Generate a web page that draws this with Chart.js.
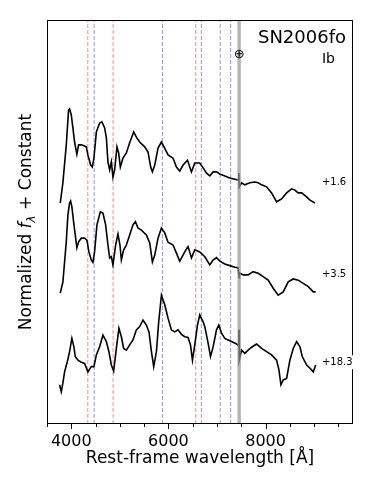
<!DOCTYPE html>
<html>
<head>
<meta charset="utf-8">
<script src="https://cdn.jsdelivr.net/npm/chart.js@4/dist/chart.umd.min.js"></script>
<style>
  body { margin: 0; background: #fff; }
  canvas { display: block; }
</style>
</head>
<body>
<canvas id="spectraChart" width="374" height="486"></canvas>
<script>
// rest-frame wavelength (Å) and normalized flux, one pair of arrays per epoch
const wave1 = [3773, 3827, 3897, 3944, 3965, 4000, 4033, 4068, 4115, 4151, 4206, 4274, 4309, 4342, 4398, 4433, 4466, 4516, 4584, 4631, 4687, 4722, 4755, 4790, 4825, 4858, 4893, 4940, 4975, 5010, 5064, 5134, 5202, 5285, 5340, 5408, 5511, 5580, 5635, 5670, 5718, 5786, 5856, 5909, 5992, 6095, 6165, 6233, 6301, 6392, 6474, 6542, 6645, 6714, 6784, 6852, 6920, 6990, 7058, 7161, 7264, 7367, 7435, 7450, 7458, 7505, 7573, 7676, 7779, 7848, 7918, 8021, 8124, 8227, 8330, 8433, 8536, 8604, 8672, 8743, 8846, 8914, 9017];
const flux1 = [0.47, 0.97, 1.91, 2.77, 2.80, 2.65, 2.33, 1.98, 1.68, 1.91, 1.91, 1.88, 1.86, 1.66, 1.41, 1.36, 1.58, 2.23, 2.45, 2.48, 2.33, 2.08, 1.49, 1.29, 1.49, 1.11, 1.29, 1.86, 1.71, 1.36, 1.58, 1.71, 1.96, 2.23, 2.10, 1.98, 1.86, 1.73, 1.36, 1.24, 1.41, 1.83, 1.98, 1.86, 1.66, 1.58, 1.36, 1.26, 1.41, 1.53, 1.24, 1.46, 1.46, 1.34, 1.21, 1.14, 1.24, 1.24, 1.19, 1.14, 1.09, 1.06, 1.04, 1.21, 0.87, 0.97, 0.92, 0.97, 0.99, 0.97, 0.92, 0.87, 0.72, 0.50, 0.57, 0.72, 0.82, 0.79, 0.72, 0.72, 0.62, 0.54, 0.47];

const wave2 = [3773, 3827, 3897, 3930, 3965, 3986, 4012, 4047, 4082, 4115, 4151, 4206, 4274, 4322, 4363, 4412, 4445, 4480, 4528, 4598, 4652, 4707, 4755, 4790, 4825, 4858, 4913, 4961, 5002, 5031, 5078, 5134, 5202, 5270, 5320, 5373, 5443, 5546, 5615, 5670, 5718, 5786, 5856, 5924, 5992, 6095, 6165, 6233, 6336, 6404, 6474, 6542, 6645, 6749, 6852, 6920, 6990, 7058, 7161, 7264, 7367, 7435, 7450, 7456, 7462, 7538, 7641, 7745, 7848, 7951, 8054, 8157, 8260, 8363, 8466, 8569, 8672, 8776, 8879, 8982, 9031];
const flux2 = [0.24, 0.51, 1.51, 2.17, 2.47, 2.52, 2.38, 2.01, 1.68, 1.36, 1.51, 1.60, 1.60, 1.55, 1.26, 1.06, 1.00, 1.26, 1.93, 2.25, 2.22, 1.93, 1.43, 1.11, 1.14, 0.94, 1.43, 1.70, 1.43, 1.06, 1.31, 1.43, 1.68, 1.93, 2.01, 1.85, 1.80, 1.68, 1.48, 1.01, 1.18, 1.60, 1.85, 1.73, 1.50, 1.43, 1.23, 1.03, 1.26, 1.39, 1.11, 1.31, 1.26, 1.14, 0.94, 1.06, 1.12, 1.03, 0.96, 0.92, 0.88, 0.87, 0.87, 0.62, 0.74, 0.69, 0.69, 0.77, 0.73, 0.65, 0.56, 0.36, 0.19, 0.27, 0.52, 0.59, 0.56, 0.48, 0.40, 0.27, 0.27];

const wave3 = [3759, 3794, 3827, 3862, 3918, 3965, 4012, 4054, 4082, 4136, 4206, 4274, 4342, 4412, 4466, 4516, 4584, 4652, 4722, 4775, 4825, 4872, 4928, 4981, 5031, 5078, 5134, 5202, 5270, 5340, 5408, 5476, 5546, 5600, 5650, 5697, 5753, 5800, 5856, 5924, 5992, 6062, 6130, 6198, 6268, 6336, 6404, 6454, 6495, 6542, 6598, 6645, 6714, 6749, 6817, 6866, 6920, 6990, 7037, 7093, 7161, 7229, 7299, 7402, 7449, 7453, 7459, 7505, 7573, 7641, 7712, 7815, 7918, 8021, 8124, 8227, 8275, 8316, 8363, 8433, 8501, 8569, 8639, 8708, 8755, 8846, 8914, 8982, 9031];
const flux3 = [0.47, 0.30, 0.51, 0.79, 1.04, 1.29, 1.62, 1.41, 1.17, 1.08, 1.03, 1.00, 0.79, 0.92, 0.92, 1.21, 1.41, 1.70, 1.54, 1.29, 0.96, 0.81, 1.37, 1.87, 1.66, 1.37, 1.33, 1.46, 1.58, 1.83, 1.91, 2.07, 1.95, 1.78, 1.29, 0.92, 1.29, 2.03, 2.69, 2.45, 2.12, 1.83, 1.78, 1.83, 1.72, 1.66, 1.64, 1.46, 1.08, 1.46, 1.95, 2.20, 2.03, 1.91, 1.50, 1.17, 1.41, 1.83, 1.95, 1.75, 1.62, 1.58, 1.54, 1.48, 1.43, 1.83, 1.08, 1.33, 1.25, 1.33, 1.40, 1.48, 1.37, 1.29, 1.21, 1.08, 0.84, 0.47, 0.59, 0.63, 1.08, 1.37, 1.54, 1.41, 1.17, 0.96, 0.88, 0.79, 0.96];

// vertical offsets ("+ Constant") and phase labels (days)
const offsets = [5, 3, 0.5];
const phases = ['+1.6', '+3.5', '+18.3'];

// line markers: hydrogen (red) and helium (blue), telluric band (grey)
const hLines = [4340, 4861, 6563];
const heLines = [4471, 5876, 6678, 7065, 7281];
const telluric = 7456;

// axis
const xMin = 3500, xMax = 9800;
const yMin = 0, yMax = 10;
const xTickLabels = [4000, 6000, 8000];

function toPoints(w, f, off) {
    return w.map((x, i) => ({ x: x, y: f[i] + off }));
}

function vline(x, color, dash, width, order) {
    return {
        data: [{ x: x, y: yMin }, { x: x, y: yMax }],
        borderColor: color,
        borderWidth: width,
        borderDash: dash,
        pointRadius: 0,
        order: order
    };
}

const datasets = [];
hLines.forEach(w => datasets.push(vline(w, 'rgba(255, 90, 90, 0.7)', [4, 2], 1, 3)));
heLines.forEach(w => datasets.push(vline(w, 'rgba(100, 100, 255, 0.7)', [4, 2], 1, 3)));
[[wave1, flux1], [wave2, flux2], [wave3, flux3]].forEach((s, i) => {
    datasets.push({
        data: toPoints(s[0], s[1], offsets[i]),
        borderColor: '#000',
        borderWidth: 1.6,
        pointRadius: 0,
        tension: 0,
        order: 2
    });
});
datasets.push(vline(telluric, 'rgba(150, 150, 150, 0.7)', [], 3.5, 1));

const font = '"DejaVu Sans", sans-serif';

// frame, tick marks and annotations
const decor = {
    id: 'decor',
    afterDatasetsDraw(chart) {
        const { ctx, chartArea: a, scales: { x } } = chart;
        ctx.save();
        ctx.strokeStyle = '#000';
        ctx.lineWidth = 1;
        ctx.strokeRect(a.left + 0.5, a.top + 0.5, a.right - a.left - 1, a.bottom - a.top - 1);
        for (let v = xMin; v <= xMax; v += 500) {
            const px = Math.round(x.getPixelForValue(v)) + 0.5;
            const len = v % 2000 === 0 ? 5 : 3;
            ctx.beginPath();
            ctx.moveTo(px, a.bottom);
            ctx.lineTo(px, a.bottom + len);
            ctx.stroke();
        }
        ctx.restore();
    },
    afterDraw(chart) {
        const { ctx, chartArea: a, scales: { x, y } } = chart;
        ctx.save();
        ctx.fillStyle = '#000';

        ctx.font = '18px ' + font;
        ctx.textAlign = 'right';
        ctx.textBaseline = 'alphabetic';
        ctx.fillText('SN2006fo', a.right - 7, 43);
        ctx.font = '14px ' + font;
        ctx.fillText('Ib', a.right - 18, 63);

        ctx.font = '13px ' + font;
        ctx.textAlign = 'center';
        ctx.textBaseline = 'middle';
        ctx.fillText('\u2295', x.getPixelForValue(telluric), 55);

        // phase labels, with white box like matplotlib bbox
        const lvl = [0.97, 0.71, 1.03];
        ctx.font = '10px ' + font;
        ctx.textAlign = 'left';
        phases.forEach((p, i) => {
            const px = x.getPixelForValue(9160);
            const py = y.getPixelForValue(offsets[i] + lvl[i]);
            const w = ctx.measureText(p).width;
            ctx.fillStyle = '#fff';
            ctx.fillRect(px - 2, py - 7, w + 4, 14);
            ctx.fillStyle = '#000';
            ctx.fillText(p, px, py);
        });

        // y axis title: Normalized f_lambda + Constant
        ctx.translate(31, (a.top + a.bottom) / 2);
        ctx.rotate(-Math.PI / 2);
        ctx.textBaseline = 'alphabetic';
        const parts = [
            ['Normalized ', '17px ' + font, 0],
            ['f', 'italic 17px ' + font, 0],
            ['\u03bb', 'italic 12px ' + font, 4],
            [' + Constant', '17px ' + font, 0]
        ];
        let total = 0;
        parts.forEach(pt => { ctx.font = pt[1]; total += ctx.measureText(pt[0]).width; });
        let cx = -total / 2;
        parts.forEach(pt => {
            ctx.font = pt[1];
            ctx.fillText(pt[0], cx, pt[2]);
            cx += ctx.measureText(pt[0]).width;
        });
        ctx.restore();
    }
};

const chart = new Chart(document.getElementById('spectraChart'), {
    type: 'line',
    data: { datasets: datasets },
    options: {
        responsive: false,
        animation: false,
        layout: { padding: { left: 47, right: 21, top: 20, bottom: 0 } },
        plugins: { legend: { display: false }, tooltip: { enabled: false } },
        scales: {
            x: {
                type: 'linear',
                min: xMin,
                max: xMax,
                grid: { display: false, drawTicks: false },
                border: { display: false },
                afterBuildTicks: s => { s.ticks = xTickLabels.map(v => ({ value: v })); },
                ticks: {
                    autoSkip: false,
                    maxRotation: 0,
                    padding: 8,
                    color: '#000',
                    font: { family: 'DejaVu Sans', size: 16 },
                    callback: v => String(v)
                },
                title: {
                    display: true,
                    text: 'Rest-frame wavelength [Å]',
                    color: '#000',
                    font: { family: 'DejaVu Sans', size: 17 },
                    padding: { top: 0, bottom: 17 }
                },
                afterFit: s => { s.height = 62; }
            },
            y: { display: false, min: yMin, max: yMax }
        }
    },
    plugins: [decor]
});
</script>
</body>
</html>
